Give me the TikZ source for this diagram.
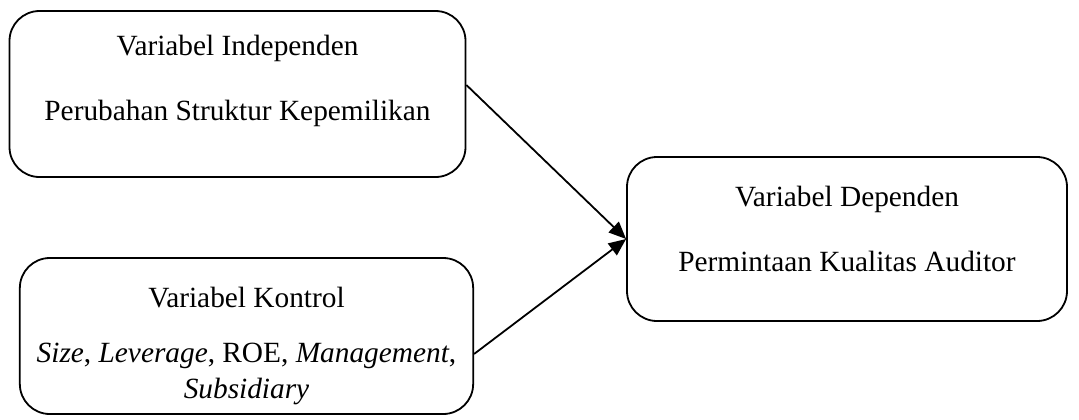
\documentclass[tikz,border=0pt]{standalone}
\usepackage{fontspec}
\setmainfont{Liberation Serif}
\usetikzlibrary{arrows.meta}

\tikzset{
  varbox/.style={draw, line width=1.35pt, rounded corners=22.5pt, inner sep=0pt},
  vartext/.style={inner sep=0.75pt, align=center, font=\fontsize{22}{27}\selectfont},
  panah/.style={line width=1.35pt, -{Triangle[length=13pt,width=11pt]}}
}

\begin{document}
\begin{tikzpicture}[x=0.75pt,y=0.75pt,yscale=-1,xscale=1]
\useasboundingbox (0,0) rectangle (1079,419);

%Shape: Rounded Rectangle [independen]
\node [varbox, minimum width=342pt, minimum height=124.5pt] (indep) at (237.5,94) {};
%Shape: Rounded Rectangle [kontrol]
\node [varbox, minimum width=340pt, minimum height=117pt] (kontrol) at (246.5,336) {};
%Shape: Rounded Rectangle [dependen]
\node [varbox, minimum width=330pt, minimum height=123pt] (dep) at (847,239) {};

% Text Node
\node [vartext] (indepjudul) at (237.5,48) {Variabel Independen};
% Text Node
\node [vartext] (indepisi) at (237.5,113) {Perubahan Struktur Kepemilikan};
% Text Node
\node [vartext] (kontroljudul) at (246.5,298) {Variabel Kontrol};
% Text Node
\node [vartext] (kontrolisi) at (246.5,374) {\textit{Size}, \textit{Leverage}, ROE, \textit{Management},\\\textit{Subsidiary}};
% Text Node
\node [vartext] (depjudul) at (847,199) {Variabel Dependen};
% Text Node
\node [vartext] (depisi) at (847,261) {Permintaan Kualitas Auditor};

%Straight Lines [arrows]
\draw [panah] ([yshift=-6.75pt]indep.east) -- (dep.west);
\draw [panah] ([yshift=13.5pt]kontrol.east) -- (dep.west);

\end{tikzpicture}
\end{document}
